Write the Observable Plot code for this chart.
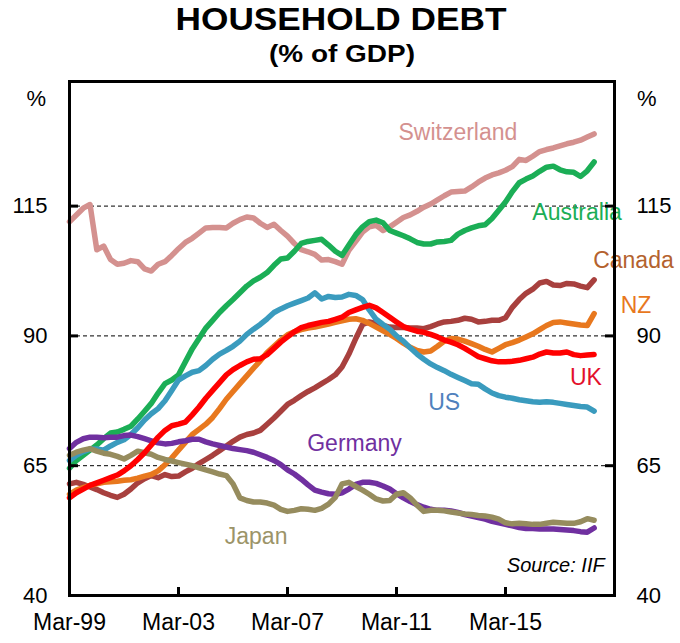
<!DOCTYPE html>
<html><head><meta charset="utf-8">
<script src="https://cdn.jsdelivr.net/npm/d3@7"></script>
<script src="https://cdn.jsdelivr.net/npm/@observablehq/plot@0.6"></script>
<style>
body{margin:0;background:#fff;font-family:"Liberation Sans",Arial,sans-serif}
svg{display:block}
</style>
</head><body>
<svg id="title" width="680" height="70" font-family="Liberation Sans, Arial, sans-serif">
  <text x="341" y="29.5" text-anchor="middle" font-size="31" font-weight="bold" textLength="331" lengthAdjust="spacingAndGlyphs">HOUSEHOLD DEBT</text>
  <text x="342" y="61.5" text-anchor="middle" font-size="24" font-weight="bold" textLength="146" lengthAdjust="spacingAndGlyphs">(% of GDP)</text>
</svg>
<div id="chart"></div>
<script>
// Quarterly observations, Mar-99 .. Jun-18 (78 quarters)
const startYear = 1999, startMonth = 2, nQuarters = 78;
const quarters = d3.range(nQuarters).map(i => new Date(Date.UTC(startYear, startMonth + 3 * i, 1)));

const countries = ["Switzerland", "Australia", "Canada", "NZ", "US", "Germany", "Japan", "UK"];

const switzerland = [112.0,113.3,114.6,115.3,106.6,107.3,104.7,103.8,104.0,104.5,104.3,102.9,102.5,103.8,104.3,105.5,
  106.8,108.0,108.8,109.8,110.8,110.9,110.9,110.8,111.7,112.4,112.9,112.7,111.7,110.9,111.5,110.3,
  109.2,107.8,106.6,106.2,105.7,104.6,104.7,104.3,103.8,106.5,108.2,110.0,111.0,111.3,110.3,111.0,
  111.9,112.8,113.3,114.0,114.8,115.4,116.2,117.0,117.7,117.8,117.9,118.7,119.6,120.4,121.0,121.4,
  121.9,122.6,124.0,123.8,124.6,125.5,125.9,126.2,126.6,127.0,127.3,127.7,128.3,128.9];

const australia = [64.5,66.0,67.0,68.0,69.0,70.2,71.3,71.5,72.0,72.6,74.0,75.5,77.0,79.0,80.8,81.5,
  82.5,85.0,87.5,89.5,91.5,93.0,94.5,95.8,97.0,98.3,99.6,100.6,101.3,102.2,103.6,104.8,
  105.0,106.3,107.8,108.2,108.4,108.6,107.5,106.3,105.5,107.5,109.5,111.0,112.0,112.3,111.8,110.3,
  109.8,109.3,108.7,108.0,107.7,107.7,108.1,108.2,108.4,109.6,110.3,110.8,111.2,111.4,112.6,114.2,
  115.8,117.8,119.5,120.2,120.8,121.7,122.5,122.7,122.0,121.6,121.5,120.7,121.8,123.5];

const canada = [61.5,61.8,61.4,60.9,60.4,59.8,59.3,58.9,59.5,60.5,61.7,62.5,63.1,62.7,63.3,62.9,
  63.0,63.8,64.5,65.4,66.2,67.0,67.9,68.8,69.7,70.5,71.0,71.3,71.8,73.0,74.2,75.5,
  76.8,77.6,78.5,79.3,80.0,80.8,81.6,82.5,84.0,86.5,89.5,92.2,92.7,92.4,92.0,91.7,
  91.6,91.6,91.5,91.5,91.4,91.8,92.3,92.7,92.8,93.0,93.4,93.2,92.7,92.8,93.0,93.0,
  93.5,95.5,97.0,98.2,99.0,100.2,100.5,99.8,99.7,100.1,100.0,99.6,99.3,100.8];

const nz = [59.5,60.3,60.8,61.2,61.5,61.8,61.9,62.0,62.2,62.3,62.6,63.0,63.3,64.0,65.2,66.5,
  68.0,69.5,71.0,72.0,73.0,74.3,76.0,77.8,79.3,80.8,82.3,83.8,85.2,86.8,88.0,89.2,
  90.2,90.8,91.2,91.5,91.7,92.0,92.3,92.6,92.9,93.2,93.3,93.0,92.4,91.7,91.0,90.3,
  89.5,88.6,87.8,87.2,86.9,87.1,88.0,89.0,89.5,89.4,89.0,88.5,88.0,87.4,86.9,87.6,
  88.3,88.7,89.2,89.8,90.4,91.2,92.0,92.6,92.7,92.5,92.3,92.1,92.0,94.3];

const us = [66.0,67.0,67.7,68.2,68.2,68.0,68.8,69.5,70.0,71.0,72.3,73.8,75.0,76.0,77.5,79.5,
  81.5,82.3,83.0,83.3,84.3,85.5,86.5,87.2,88.0,89.0,90.3,91.3,92.2,93.3,94.5,95.2,
  95.8,96.3,96.8,97.3,98.3,97.1,97.6,97.4,97.5,98.0,97.8,97.0,95.0,93.2,92.2,91.3,
  90.0,89.0,87.7,86.5,85.5,84.6,83.9,83.3,82.6,82.0,81.4,80.8,80.7,79.8,79.0,78.5,
  78.2,78.0,77.7,77.5,77.3,77.2,77.3,77.2,77.0,76.8,76.6,76.4,76.3,75.5];

const germany = [68.3,69.5,70.2,70.5,70.5,70.4,70.5,70.5,70.8,70.9,70.6,70.2,69.8,69.4,69.2,69.3,
  69.6,69.8,70.1,70.1,69.6,69.2,68.9,68.6,68.3,68.1,67.9,67.6,67.1,66.6,66.0,65.2,
  64.2,63.4,62.4,61.3,60.3,59.9,59.6,59.5,59.8,60.5,61.4,61.8,61.8,61.6,61.1,60.5,
  59.6,58.8,58.1,57.5,57.0,56.6,56.4,56.4,56.3,56.0,55.6,55.3,55.0,54.7,54.3,54.0,
  53.7,53.4,53.1,52.9,52.9,52.8,52.8,52.8,52.7,52.6,52.5,52.3,52.2,53.0];

const japan = [67.0,67.6,68.0,68.3,67.8,67.4,67.2,66.8,66.3,67.0,67.8,67.5,67.2,66.6,66.2,65.9,
  65.6,65.3,65.0,64.6,64.2,63.8,63.4,63.1,61.5,58.8,58.3,58.0,58.0,57.8,57.4,56.6,
  56.2,56.4,56.7,56.6,56.4,56.8,57.6,58.9,61.5,61.8,61.0,60.3,59.5,58.6,58.2,58.3,
  59.5,59.8,58.8,57.4,56.2,56.4,56.4,56.3,56.1,55.9,55.7,55.6,55.4,55.3,55.1,54.7,
  54.0,53.8,53.9,53.8,53.7,53.7,53.9,54.1,54.0,53.9,53.9,54.2,54.8,54.5];

const uk = [58.8,59.8,60.5,61.2,61.7,62.2,62.7,63.2,64.0,65.0,66.2,67.5,69.0,70.5,71.8,72.7,
  73.0,73.4,74.8,76.3,78.0,79.5,81.0,82.5,83.5,84.3,85.0,85.5,85.6,86.4,87.6,88.8,
  89.8,90.8,91.6,92.0,92.3,92.6,92.8,93.2,93.6,94.5,95.0,95.5,95.9,95.4,94.5,93.6,
  92.7,91.8,91.3,90.9,90.7,90.3,89.8,89.2,88.8,88.3,87.6,86.8,86.0,85.6,85.2,85.0,
  85.0,85.1,85.3,85.6,85.9,86.5,86.9,86.7,86.7,86.9,86.4,86.2,86.3,86.4];

const seriesValues = [switzerland, australia, canada, nz, us, germany, japan, uk];
const lineColors = ["#D4918F", "#1BAE56", "#A8403E", "#E8781E", "#3A9BBE", "#7030A0", "#968C5E", "#FF0000"];

// Direct labels
const labelTexts  = ["Switzerland", "Australia", "Canada", "NZ", "US", "Germany", "Japan", "UK"];
const labelDates  = ["2013-06-01", "2017-10-15", "2019-11-10", "2019-12-15", "2012-11-28", "2009-08-15", "2006-01-04", "2018-02-10"];
const labelValues = [129.1, 113.7, 104.5, 95.8, 77.2, 69.3, 51.4, 82.0];
const labelColors = ["#D4918F", "#1BAE56", "#B4622E", "#E8781E", "#4F81BD", "#7030A0", "#9C9468", "#E3102B"];

const sourceText = "Source: IIF", sourceDate = "2018-10-20", sourceValue = 45.8;

// Axes
const yDomain = [40, 139];
const yTicks = [40, 65, 90, 115];
const gridValues = [65, 90, 115];
const xDomain = [new Date(Date.UTC(1999, 2, 1)), new Date(Date.UTC(2019, 2, 1))];
const xTicks = [1999, 2003, 2007, 2011, 2015].map(y => new Date(Date.UTC(y, 2, 1)));
const unitLabel = "%";

const rows = [];
countries.forEach((c, k) => seriesValues[k].forEach((v, i) => rows.push({country: c, date: quarters[i], value: v})));

const W = 680, H = 573, mT = 11, mB = 48, mL = 69, mR = 66;
const frameW = W - mL - mR, frameH = H - mT - mB;
const fontFamily = "Liberation Sans, Arial, sans-serif";

const marks = [
  Plot.ruleY(gridValues, {y: d => d, stroke: "#000", strokeWidth: 1, strokeDasharray: "4,3"}),
];
countries.forEach((c, k) => {
  marks.push(Plot.lineY(rows.filter(r => r.country === c), {
    x: "date", y: "value", stroke: lineColors[k], strokeWidth: 5.5,
    strokeLinejoin: "round", strokeLinecap: "round"
  }));
});
labelTexts.forEach((t, k) => {
  marks.push(Plot.text([t], {
    x: () => new Date(labelDates[k]), y: () => labelValues[k], text: d => d,
    fill: labelColors[k], fontSize: 23, textAnchor: "middle"
  }));
});
marks.push(
  Plot.text([sourceText], {x: () => new Date(sourceDate), y: () => sourceValue, text: d => d,
    textAnchor: "end", fontStyle: "italic", fontSize: 20, fill: "#000"}),
  Plot.frame({stroke: "#000", strokeWidth: 3}),
  Plot.tickY(gridValues, {y: d => d, stroke: "#000", strokeWidth: 3, insetRight: frameW - 9}),
  Plot.tickY(gridValues, {y: d => d, stroke: "#000", strokeWidth: 3, insetLeft: frameW - 9}),
  Plot.tickX(xTicks, {x: d => d, stroke: "#000", strokeWidth: 3, insetTop: frameH - 8}),
  Plot.axisY({anchor: "left", ticks: yTicks, tickSize: 0, tickPadding: 22, fontSize: 22, label: null}),
  Plot.axisY({anchor: "right", ticks: yTicks, tickSize: 0, tickPadding: 22, fontSize: 22, label: null}),
  Plot.axisX({ticks: xTicks, tickSize: 0, tickPadding: 18, fontSize: 23, label: null,
    tickFormat: d3.utcFormat("%b-%y")}),
  Plot.text([unitLabel], {frameAnchor: "top-left", text: d => d, dx: -43, dy: 9, fontSize: 22, fill: "#000"}),
  Plot.text([unitLabel], {frameAnchor: "top-right", text: d => d, dx: 42, dy: 9, fontSize: 22, fill: "#000"})
);

const chart = Plot.plot({
  width: W, height: H,
  marginTop: mT, marginBottom: mB, marginLeft: mL, marginRight: mR,
  style: {fontFamily, background: "#fff", color: "#000", overflow: "visible"},
  x: {type: "utc", domain: xDomain},
  y: {domain: yDomain},
  marks
});
document.getElementById("chart").appendChild(chart);
</script>
</body></html>
